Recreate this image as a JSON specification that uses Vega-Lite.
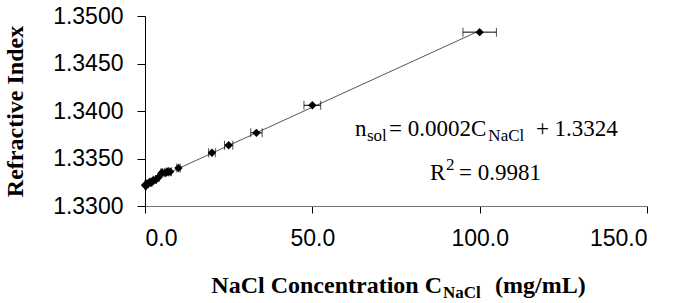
{
  "$schema": "https://vega.github.io/schema/vega-lite/v6.json",
  "width": 502,
  "height": 190,
  "autosize": {"type": "none"},
  "padding": {"left": 145, "top": 16, "right": 31, "bottom": 97},
  "background": "white",
  "config": {
    "view": {"stroke": null},
    "axis": {"grid": false, "labelFont": "Liberation Sans", "labelColor": "#000", "tickColor": "#000", "domainColor": "#000"},
    "axisY": {"labelFontSize": 23, "tickSize": 8, "labelPadding": 14, "domainColor": "#000"},
    "axisX": {"labelFontSize": 23, "tickSize": 7, "labelPadding": 14, "domainColor": "#777"}
  },
  "datasets": {
    "pts": [
      {"x": 0, "n": 1.3322, "xlo": 0, "xhi": 0},
      {"x": 0.25, "n": 1.3321, "xlo": 0.24, "xhi": 0.26},
      {"x": 0.5, "n": 1.3323, "xlo": 0.475, "xhi": 0.525},
      {"x": 1, "n": 1.3324, "xlo": 0.95, "xhi": 1.05},
      {"x": 1.5, "n": 1.3325, "xlo": 1.43, "xhi": 1.58},
      {"x": 2, "n": 1.3325, "xlo": 1.9, "xhi": 2.1},
      {"x": 2.5, "n": 1.3327, "xlo": 2.38, "xhi": 2.63},
      {"x": 3.3, "n": 1.3328, "xlo": 3.14, "xhi": 3.47},
      {"x": 4, "n": 1.333, "xlo": 3.8, "xhi": 4.2},
      {"x": 5, "n": 1.3335, "xlo": 4.75, "xhi": 5.25},
      {"x": 6, "n": 1.3335, "xlo": 5.7, "xhi": 6.3},
      {"x": 6.7, "n": 1.3336, "xlo": 6.37, "xhi": 7.04},
      {"x": 7.5, "n": 1.3336, "xlo": 7.13, "xhi": 7.88},
      {"x": 10, "n": 1.334, "xlo": 9.5, "xhi": 10.5},
      {"x": 20, "n": 1.3356, "xlo": 19, "xhi": 21},
      {"x": 25, "n": 1.3364, "xlo": 23.75, "xhi": 26.25},
      {"x": 33.3, "n": 1.3377, "xlo": 31.6, "xhi": 35.0},
      {"x": 50, "n": 1.3406, "xlo": 47.5, "xhi": 52.5},
      {"x": 100, "n": 1.3483, "xlo": 95, "xhi": 105}
    ],
    "eqMain": [
      {"x": 62.75, "n": 1.337368, "t": "n"},
      {"x": 72.91, "n": 1.337368, "t": "= 0.0002C"},
      {"x": 116.8, "n": 1.337368, "t": "+ 1.3324"},
      {"x": 85.16, "n": 1.332737, "t": "R"},
      {"x": 93.82, "n": 1.332737, "t": "= 0.9981"}
    ],
    "eqSub": [
      {"x": 66.33, "n": 1.336842, "t": "sol"},
      {"x": 102.6, "n": 1.336842, "t": "NaCl"},
      {"x": 89.94, "n": 1.333789, "t": "2"}
    ],
    "titleLeft": [
      {"x": 88.75, "n": 1.320842, "t": "NaCl Concentration C"}
    ],
    "titleRight": [
      {"x": 104.6, "n": 1.320842, "t": "(mg/mL)"}
    ],
    "titleSub": [
      {"x": 89.05, "n": 1.320316, "t": "NaCl"}
    ]
  },
  "layer": [
    {
      "data": {"name": "pts"},
      "transform": [{"regression": "n", "on": "x", "method": "linear", "extent": [0, 100]}],
      "mark": {"type": "line", "color": "#555", "strokeWidth": 1},
      "encoding": {
        "x": {"field": "x", "type": "quantitative", "scale": {"domain": [0, 150], "nice": false, "zero": false}, "axis": {"values": [0, 50, 100, 150], "format": ".1f", "title": null}},
        "y": {"field": "n", "type": "quantitative", "scale": {"domain": [1.33, 1.35], "nice": false, "zero": false}, "axis": {"values": [1.33, 1.335, 1.34, 1.345, 1.35], "format": ".4f", "title": "Refractive Index", "titleFont": "Liberation Serif", "titleFontSize": 24, "titleFontWeight": "bold", "titleColor": "#000", "titleX": -130, "titleY": 95, "titleAngle": 270, "titleAlign": "center", "titleBaseline": "middle"}}
      }
    },
    {
      "data": {"name": "pts"},
      "mark": {"type": "rule", "color": "#000", "strokeWidth": 1},
      "encoding": {
        "x": {"field": "xlo", "type": "quantitative"},
        "x2": {"field": "xhi"},
        "y": {"field": "n", "type": "quantitative"}
      }
    },
    {
      "data": {"name": "pts"},
      "mark": {"type": "tick", "orient": "vertical", "color": "#000", "size": 9, "thickness": 1},
      "encoding": {
        "x": {"field": "xlo", "type": "quantitative"},
        "y": {"field": "n", "type": "quantitative"}
      }
    },
    {
      "data": {"name": "pts"},
      "mark": {"type": "tick", "orient": "vertical", "color": "#000", "size": 9, "thickness": 1},
      "encoding": {
        "x": {"field": "xhi", "type": "quantitative"},
        "y": {"field": "n", "type": "quantitative"}
      }
    },
    {
      "data": {"name": "pts"},
      "mark": {"type": "point", "shape": "diamond", "filled": true, "color": "#000", "size": 70, "opacity": 1},
      "encoding": {
        "x": {"field": "x", "type": "quantitative"},
        "y": {"field": "n", "type": "quantitative"}
      }
    },
    {
      "data": {"name": "eqMain"},
      "mark": {"type": "text", "align": "left", "baseline": "alphabetic", "font": "Liberation Serif", "fontSize": 23, "color": "#000"},
      "encoding": {
        "x": {"field": "x", "type": "quantitative"},
        "y": {"field": "n", "type": "quantitative"},
        "text": {"field": "t"}
      }
    },
    {
      "data": {"name": "eqSub"},
      "mark": {"type": "text", "align": "left", "baseline": "alphabetic", "font": "Liberation Serif", "fontSize": 17, "color": "#000"},
      "encoding": {
        "x": {"field": "x", "type": "quantitative"},
        "y": {"field": "n", "type": "quantitative"},
        "text": {"field": "t"}
      }
    },
    {
      "data": {"name": "titleLeft"},
      "mark": {"type": "text", "align": "right", "baseline": "alphabetic", "font": "Liberation Serif", "fontSize": 24, "fontWeight": "bold", "color": "#000"},
      "encoding": {
        "x": {"field": "x", "type": "quantitative"},
        "y": {"field": "n", "type": "quantitative"},
        "text": {"field": "t"}
      }
    },
    {
      "data": {"name": "titleRight"},
      "mark": {"type": "text", "align": "left", "baseline": "alphabetic", "font": "Liberation Serif", "fontSize": 24, "fontWeight": "bold", "color": "#000"},
      "encoding": {
        "x": {"field": "x", "type": "quantitative"},
        "y": {"field": "n", "type": "quantitative"},
        "text": {"field": "t"}
      }
    },
    {
      "data": {"name": "titleSub"},
      "mark": {"type": "text", "align": "left", "baseline": "alphabetic", "font": "Liberation Serif", "fontSize": 17, "fontWeight": "bold", "color": "#000"},
      "encoding": {
        "x": {"field": "x", "type": "quantitative"},
        "y": {"field": "n", "type": "quantitative"},
        "text": {"field": "t"}
      }
    }
  ]
}
